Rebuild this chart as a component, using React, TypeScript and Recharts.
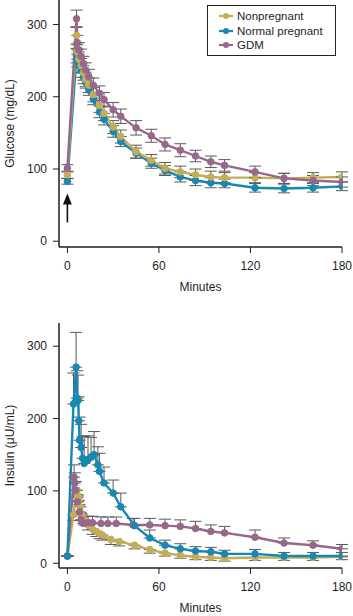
import React from 'react';
import { LineChart, Line, XAxis, YAxis, ErrorBar, ReferenceLine, ReferenceDot, Label } from 'recharts';

const GOLD = '#c5ad58';
const BLUE = '#1688b4';
const PURPLE = '#97688b';
const ERR = '#5a5a5a';
const AXIS = '#1e1e1e';
const FONT = '"Liberation Sans", Arial, Helvetica, sans-serif';

const SERIES_NAMES = ['Nonpregnant', 'Normal pregnant', 'GDM'];
const X_TICKS = [0, 60, 120, 180];
const Y_TICKS = [0, 100, 200, 300];

// Glucose (mg/dL)
const T_GLU = [0, 6, 6.5, 7.5, 9, 10.5, 12, 14, 17, 21, 24, 30, 35, 45, 55, 64, 74, 84, 94, 103, 123, 142, 161, 180];
const GLU_NONPREG = [92, 285, 262, 252, 243, 233, 224, 216, 203, 188, 177, 158, 145, 124, 112, 101, 96, 92, 89, 88, 88, 87, 88, 89];
const GLU_NORMAL = [83, 257, 250, 243, 236, 227, 220, 210, 197, 179, 169, 152, 138, 122, 108, 98, 89, 84, 81, 80, 74, 73, 74, 76];
const GLU_GDM = [101, 308, 275, 265, 256, 246, 237, 228, 216, 205, 196, 182, 173, 157, 146, 134, 126, 118, 110, 105, 96, 87, 84, 82];
const GLU_NONPREG_ERR = [5, 12, 10, 10, 10, 10, 10, 10, 10, 10, 10, 9, 9, 9, 8, 8, 8, 8, 8, 7, 7, 7, 7, 7];
const GLU_NORMAL_ERR = [4, 10, 9, 9, 9, 9, 8, 8, 8, 8, 8, 8, 7, 7, 7, 7, 7, 7, 7, 6, 6, 6, 6, 6];
const GLU_GDM_ERR = [5, 12, 10, 10, 10, 10, 10, 10, 10, 10, 10, 10, 10, 10, 9, 9, 9, 8, 8, 8, 8, 7, 7, 7];

// Insulin (µU/mL)
const T_INS_NONPREG = [0, 4, 6.4, 7, 7.5, 8.5, 9.5, 11, 13.5, 16.5, 19, 21, 23, 28.5, 34, 44, 54, 64, 74, 84, 94, 103, 123, 142, 161, 180];
const INS_NONPREG = [10, 67, 101, 93, 87, 78, 67, 60, 53, 47, 44, 41, 39, 33, 30, 25, 19, 14, 11, 9, 8, 7, 8, 8, 8, 9];
const INS_NONPREG_ERR = [0, 8, 10, 8, 8, 8, 7, 7, 7, 7, 7, 7, 7, 7, 6, 5, 5, 4, 4, 4, 4, 4, 4, 4, 4, 4];

const T_INS_NORMAL = [0, 4, 5.7, 6.3, 7, 7.5, 8, 9, 10, 11, 13.5, 15.5, 17.5, 20, 21, 24, 30, 35, 44, 54, 64, 74, 84, 94, 103, 123, 142, 161, 180];
const INS_NORMAL = [10, 220, 271, 228, 225, 197, 170, 160, 145, 138, 143, 147, 150, 136, 127, 111, 97, 78, 52, 35, 25, 20, 17, 16, 13, 13, 10, 10, 10];
const INS_NORMAL_ERR = [0, 43, 48, 38, 35, 33, 32, 32, 30, 38, 33, 27, 32, 25, 25, 22, 18, 19, 10, 11, 7, 7, 6, 6, 5, 6, 5, 5, 5];

const T_INS_GDM = [0, 4.4, 4.9, 5.5, 6.5, 8, 9, 10.5, 13.5, 16.5, 22, 26.5, 32, 43, 54, 64, 74, 84, 94, 103, 123, 142, 161, 180];
const INS_GDM = [10, 119, 111, 101, 85, 71, 60, 55, 56, 56, 55, 55, 55, 53, 53, 52, 51, 48, 44, 42, 36, 28, 25, 20];
const INS_GDM_ERR = [0, 17, 14, 12, 10, 10, 9, 9, 9, 9, 9, 9, 9, 9, 9, 9, 9, 10, 9, 9, 10, 7, 6, 6];

const sym = (t: number[], v: number[], e: number[]) => t.map((x, i) => ({ t: x, v: v[i], e: e[i] }));
const up = (t: number[], v: number[], e: number[]) => t.map((x, i) => ({ t: x, v: v[i], e: [0, e[i]] }));
const down = (t: number[], v: number[], e: number[]) => t.map((x, i) => ({ t: x, v: v[i], e: [e[i], 0] }));

const gluNonpreg = sym(T_GLU, GLU_NONPREG, GLU_NONPREG_ERR);
const gluNormal = sym(T_GLU, GLU_NORMAL, GLU_NORMAL_ERR);
const gluGdm = sym(T_GLU, GLU_GDM, GLU_GDM_ERR);
const insNonpreg = down(T_INS_NONPREG, INS_NONPREG, INS_NONPREG_ERR);
const insNormal = up(T_INS_NORMAL, INS_NORMAL, INS_NORMAL_ERR);
const insGdm = up(T_INS_GDM, INS_GDM, INS_GDM_ERR);

const tickStyle = { fill: AXIS, fontSize: 12, fontFamily: FONT };

const xLabel = (props: any) => {
  const vb = props.viewBox;
  return (
    <text x={vb.x + vb.width / 2} y={vb.y + 44} textAnchor="middle" fontSize={12} fontFamily={FONT} fill={AXIS}>
      Minutes
    </text>
  );
};

const yLabel = (text: string) => (props: any) => {
  const vb = props.viewBox;
  const cx = vb.x + 10;
  const cy = vb.y + vb.height / 2;
  return (
    <text x={cx} y={cy} transform={`rotate(-90 ${cx} ${cy})`} textAnchor="middle" dominantBaseline="central" fontSize={12} fontFamily={FONT} fill={AXIS}>
      {text}
    </text>
  );
};

const dotOf = (c: string) => ({ r: 3.3, fill: c, stroke: c, strokeWidth: 1 });

const lineProps = (c: string, name: string) => ({
  type: 'linear' as const,
  dataKey: 'v',
  name,
  stroke: c,
  strokeWidth: 2.4,
  dot: dotOf(c),
  activeDot: false as const,
  isAnimationActive: false,
});

const Arrow = (p: any) => (
  <path d={`M${p.cx},${p.cy} L${p.cx - 4.5},${p.cy + 11} L${p.cx + 4.5},${p.cy + 11} Z`} fill="#111" />
);

const LegendBox = () => {
  const colors = [GOLD, BLUE, PURPLE];
  return (
    <div
      style={{
        position: 'absolute',
        left: 207,
        top: 5,
        width: 127,
        height: 49,
        border: '1.5px solid #222',
        background: '#fff',
        fontFamily: FONT,
        fontSize: 11.5,
        color: AXIS,
      }}
    >
      {SERIES_NAMES.map((n, i) => (
        <div key={n} style={{ position: 'absolute', left: 11, top: 3 + i * 14.6, height: 14, display: 'flex', alignItems: 'center' }}>
          <svg width={14} height={8} style={{ marginRight: 4 }}>
            <line x1={0} y1={4} x2={14} y2={4} stroke={colors[i]} strokeWidth={2.2} />
            <circle cx={7} cy={4} r={3} fill={colors[i]} />
          </svg>
          <span>{n}</span>
        </div>
      ))}
    </div>
  );
};

export default function App() {
  return (
    <div style={{ position: 'absolute', left: 0, top: 0, width: 353, height: 616, background: '#fff', fontFamily: FONT }}>
      <div style={{ position: 'absolute', left: 0, top: 0 }}>
        <LineChart width={353} height={300} margin={{ top: 0, right: 11, bottom: 0, left: 0 }}>
          <XAxis
            type="number"
            dataKey="t"
            domain={[-5.5, 180]}
            ticks={X_TICKS}
            allowDataOverflow
            height={53}
            tickSize={6}
            tickMargin={8}
            axisLine={{ stroke: AXIS, strokeWidth: 1.5 }}
            tickLine={{ stroke: AXIS, strokeWidth: 1 }}
            tick={tickStyle}
          >
            <Label content={xLabel} />
          </XAxis>
          <YAxis
            type="number"
            domain={[-8, 334]}
            ticks={Y_TICKS}
            allowDataOverflow
            width={59}
            tickSize={6}
            tickMargin={6}
            axisLine={{ stroke: AXIS, strokeWidth: 1.5 }}
            tickLine={{ stroke: AXIS, strokeWidth: 1 }}
            tick={tickStyle}
          >
            <Label content={yLabel('Glucose (mg/dL)')} />
          </YAxis>
          <ReferenceLine segment={[{ x: 0, y: 26 }, { x: 0, y: 58 }]} stroke="#111" strokeWidth={1.6} />
          <ReferenceDot x={0} y={66} r={0} shape={Arrow} />
          <Line {...lineProps(BLUE, SERIES_NAMES[1])} data={gluNormal}>
            <ErrorBar dataKey="e" direction="y" width={6} stroke={ERR} strokeWidth={1} />
          </Line>
          <Line {...lineProps(GOLD, SERIES_NAMES[0])} data={gluNonpreg}>
            <ErrorBar dataKey="e" direction="y" width={6} stroke={ERR} strokeWidth={1} />
          </Line>
          <Line {...lineProps(PURPLE, SERIES_NAMES[2])} data={gluGdm}>
            <ErrorBar dataKey="e" direction="y" width={6} stroke={ERR} strokeWidth={1} />
          </Line>
        </LineChart>
        <LegendBox />
      </div>
      <div style={{ position: 'absolute', left: 0, top: 300 }}>
        <LineChart width={353} height={316} margin={{ top: 23, right: 11, bottom: 0, left: 0 }}>
          <XAxis
            type="number"
            dataKey="t"
            domain={[-5.5, 180]}
            ticks={X_TICKS}
            allowDataOverflow
            height={48}
            tickSize={6}
            tickMargin={8}
            axisLine={{ stroke: AXIS, strokeWidth: 1.5 }}
            tickLine={{ stroke: AXIS, strokeWidth: 1 }}
            tick={tickStyle}
          >
            <Label content={xLabel} />
          </XAxis>
          <YAxis
            type="number"
            domain={[-6.5, 332]}
            ticks={Y_TICKS}
            allowDataOverflow
            width={59}
            tickSize={6}
            tickMargin={6}
            axisLine={{ stroke: AXIS, strokeWidth: 1.5 }}
            tickLine={{ stroke: AXIS, strokeWidth: 1 }}
            tick={tickStyle}
          >
            <Label content={yLabel('Insulin (μU/mL)')} />
          </YAxis>
          <Line {...lineProps(GOLD, SERIES_NAMES[0])} data={insNonpreg}>
            <ErrorBar dataKey="e" direction="y" width={6} stroke={ERR} strokeWidth={1} />
          </Line>
          <Line {...lineProps(PURPLE, SERIES_NAMES[2])} data={insGdm}>
            <ErrorBar dataKey="e" direction="y" width={6} stroke={ERR} strokeWidth={1} />
          </Line>
          <Line {...lineProps(BLUE, SERIES_NAMES[1])} data={insNormal}>
            <ErrorBar dataKey="e" direction="y" width={6} stroke={ERR} strokeWidth={1} />
          </Line>
        </LineChart>
      </div>
    </div>
  );
}
